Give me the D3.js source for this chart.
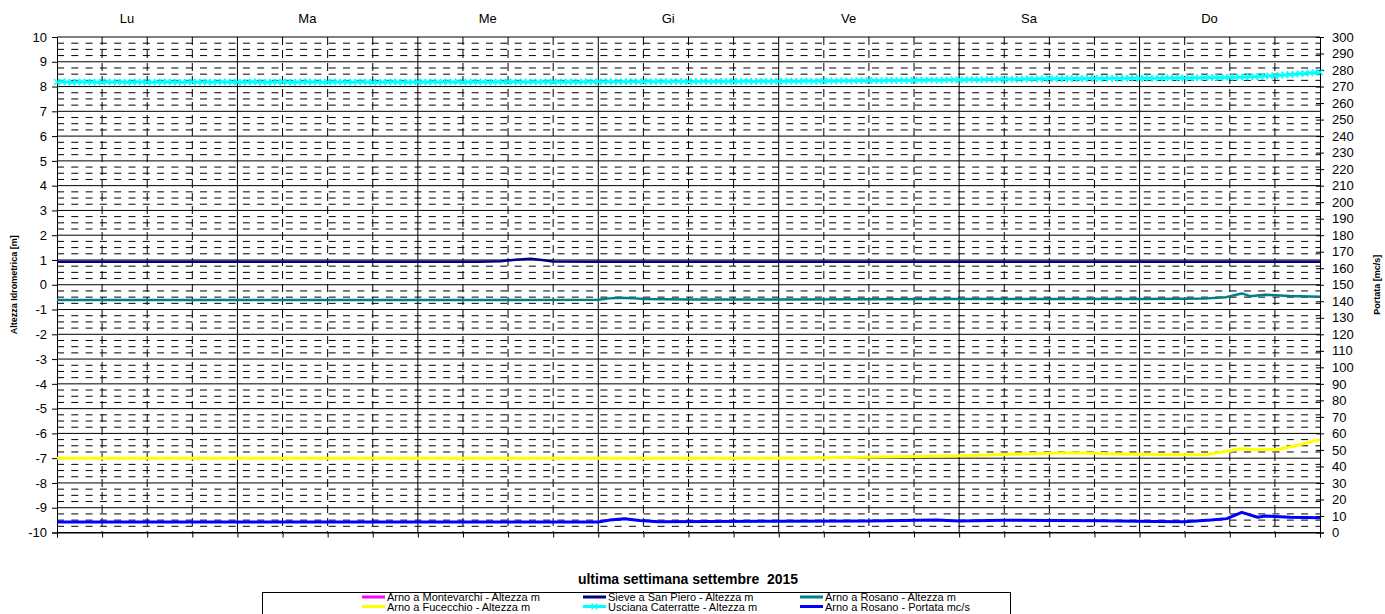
<!DOCTYPE html>
<html><head><meta charset="utf-8">
<script src="https://cdn.jsdelivr.net/npm/d3@7"></script>
<style>
html,body{margin:0;padding:0;background:#fff;}
svg{display:block;font-family:"Liberation Sans",Arial,sans-serif;}
text{white-space:pre;}
</style></head>
<body>
<svg id="chart" width="1385" height="614"></svg>
<script>
// ---------- data ----------
const days = ["Lu","Ma","Me","Gi","Ve","Sa","Do"];
const leftTickLabels = [10,9,8,7,6,5,4,3,2,1,0,-1,-2,-3,-4,-5,-6,-7,-8,-9,-10];
const rightTickLabels = [300,290,280,270,260,250,240,230,220,210,200,190,180,170,160,150,140,130,120,110,100,90,80,70,60,50,40,30,20,10,0];
const xTitle = "ultima settimana settembre  2015";
const leftTitle = "Altezza Idrometrica [m]";
const rightTitle = "Portata [mc/s]";

// Arno a Montevarchi - Altezza m (no data in the period)
const montevarchiHours = [];
const montevarchiValues = [];

// Sieve a San Piero - Altezza m
const sieveHours  = [0, 12, 24, 36, 48, 56, 59, 61, 63, 64.5, 66, 72, 96, 120, 144, 168];
const sieveValues = [0.93,0.93,0.93,0.93,0.93,0.93,0.95,1.01,1.05,1.0,0.94,0.93,0.93,0.93,0.93,0.93];

// Arno a Rosano - Altezza m
const rosanoHHours  = [0, 24, 48, 72, 73.5, 75, 76.5, 78, 84, 96, 108, 120, 132, 144, 150, 153, 155.5, 157.6, 158.7, 160.7, 164, 168];
const rosanoHValues = [-0.62,-0.62,-0.62,-0.61,-0.55,-0.52,-0.54,-0.58,-0.6,-0.6,-0.59,-0.58,-0.58,-0.58,-0.57,-0.55,-0.5,-0.35,-0.46,-0.4,-0.45,-0.48];

// Arno a Fucecchio - Altezza m
const fucecchioHours  = [0, 24, 48, 72, 96, 105, 114, 120, 126, 132, 135, 138, 141, 144, 150, 153, 155, 157.5, 159.5, 162.5, 165, 167, 168];
const fucecchioValues = [-7.0,-7.0,-7.0,-7.0,-7.0,-6.97,-6.93,-6.9,-6.85,-6.8,-6.78,-6.8,-6.83,-6.84,-6.86,-6.85,-6.75,-6.62,-6.66,-6.64,-6.48,-6.32,-6.25];

// Usciana Caterratte - Altezza m (one reading every 40 minutes)
const uscianaStepHours = 2 / 3;
const uscianaValues = [
 8.18,8.19,8.18,8.17,8.18,8.19,8.18,8.18,8.17,8.18,8.19,8.18,8.18,8.18,8.17,8.18,8.19,8.18,8.18,8.17,8.18,8.18,8.19,8.18,8.18,8.17,8.18,8.19,8.18,8.18,8.18,8.17,8.18,8.19,8.18,8.18,
 8.18,8.17,8.18,8.19,8.18,8.18,8.17,8.18,8.18,8.19,8.18,8.17,8.18,8.18,8.19,8.18,8.18,8.17,8.18,8.19,8.18,8.18,8.18,8.17,8.18,8.19,8.18,8.18,8.17,8.18,8.18,8.19,8.18,8.18,8.17,8.18,
 8.19,8.18,8.18,8.19,8.18,8.18,8.19,8.18,8.19,8.18,8.18,8.19,8.18,8.19,8.18,8.18,8.19,8.18,8.19,8.19,8.18,8.19,8.18,8.19,8.18,8.19,8.19,8.18,8.19,8.18,8.19,8.19,8.18,8.19,8.19,8.19,
 8.19,8.19,8.20,8.19,8.19,8.20,8.19,8.20,8.19,8.20,8.20,8.19,8.20,8.20,8.19,8.20,8.20,8.20,8.19,8.20,8.20,8.21,8.20,8.20,8.21,8.20,8.20,8.21,8.20,8.21,8.21,8.20,8.21,8.21,8.20,8.21,
 8.21,8.21,8.22,8.21,8.21,8.22,8.22,8.21,8.22,8.22,8.23,8.22,8.23,8.23,8.22,8.23,8.24,8.23,8.24,8.24,8.23,8.24,8.25,8.24,8.25,8.25,8.24,8.25,8.26,8.25,8.26,8.26,8.25,8.26,8.27,8.27,
 8.27,8.27,8.28,8.28,8.27,8.28,8.29,8.28,8.29,8.29,8.30,8.29,8.30,8.30,8.31,8.30,8.31,8.31,8.32,8.31,8.32,8.32,8.31,8.32,8.33,8.32,8.33,8.33,8.32,8.33,8.33,8.34,8.33,8.33,8.34,8.34,
 8.33,8.34,8.34,8.33,8.34,8.35,8.34,8.35,8.35,8.34,8.35,8.36,8.35,8.36,8.36,8.37,8.36,8.37,8.38,8.37,8.38,8.39,8.40,8.40,8.41,8.42,8.43,8.44,8.45,8.47,8.48,8.50,8.52,8.53,8.55,8.56,8.58
];

// Arno a Rosano - Portata mc/s (right axis)
const portataHours  = [0, 24, 48, 72, 73.5, 75.5, 77.5, 80, 96, 108, 117, 120, 126, 132, 138.7, 146, 150, 153.5, 155.6, 157.6, 159.7, 160.7, 164, 168];
const portataValues = [6.4,6.4,6.4,6.4,7.5,8.3,7.2,6.5,6.8,7.0,7.6,7.0,7.4,7.3,7.1,6.6,6.5,7.5,8.4,12.2,9.2,10.0,9.2,9.0];

// ---------- layout ----------
const svg = d3.select("#chart");
const L = 57, R = 1320, T = 37, B = 532.5;
const x = d3.scaleLinear().domain([0, 168]).range([L, R]);
const yL = d3.scaleLinear().domain([-10, 10]).range([B, T]);
const yR = d3.scaleLinear().domain([0, 300]).range([B, T]);

const g = svg.append("g");

// minor horizontal gridlines (every 0.25 m)
const minorH = d3.range(-10, 10.001, 0.25).filter(v => Math.abs(v - Math.round(v)) > 1e-6);
g.selectAll(".hminor").data(minorH).join("line")
  .attr("x1", L).attr("x2", R).attr("y1", d => yL(d)).attr("y2", d => yL(d))
  .attr("stroke", "#000").attr("stroke-width", 1).attr("stroke-dasharray", "7,7.3");

// minor vertical gridlines (every 6 h)
const minorV = d3.range(6, 168, 6).filter(h => h % 24 !== 0);
g.selectAll(".vminor").data(minorV).join("line")
  .attr("x1", d => x(d)).attr("x2", d => x(d)).attr("y1", T).attr("y2", B)
  .attr("stroke", "#000").attr("stroke-width", 1).attr("stroke-dasharray", "8,5");

// major horizontal gridlines
g.selectAll(".hmajor").data(leftTickLabels).join("line")
  .attr("x1", L).attr("x2", R).attr("y1", d => yL(d)).attr("y2", d => yL(d))
  .attr("stroke", "#000").attr("stroke-width", 1);

// day lines
g.selectAll(".vmajor").data(d3.range(1, 7)).join("line")
  .attr("x1", d => x(d * 24)).attr("x2", d => x(d * 24)).attr("y1", T).attr("y2", B)
  .attr("stroke", "#000").attr("stroke-width", 1);

// axes
const fmt = d => String(d);
const axL = d3.axisLeft(yL).tickValues(leftTickLabels).tickSize(5).tickPadding(5).tickFormat(fmt);
const axR = d3.axisRight(yR).tickValues(rightTickLabels).tickSize(4).tickPadding(8).tickFormat(fmt);
const axB = d3.axisBottom(x).tickValues(d3.range(0, 169, 6)).tickSize(5).tickFormat("");

function styleAxis(sel){
  sel.select(".domain").attr("stroke", "#000");
  sel.selectAll(".tick line").attr("stroke", "#000");
  sel.selectAll(".tick text").attr("fill", "#000").attr("font-size", 13)
     .attr("font-family", '"Liberation Sans",Arial,sans-serif');
}
svg.append("g").attr("transform", `translate(${L},0)`).call(axL).call(styleAxis);
const gr = svg.append("g").attr("transform", `translate(${R},0)`).call(axR).call(styleAxis);
gr.selectAll(".tick line").attr("x1", -4);
svg.append("g").attr("transform", `translate(0,${B})`).call(axB).call(styleAxis);

// day labels at top
svg.selectAll(".day").data(days).join("text")
  .attr("x", (d, i) => x(i * 24 + 9.3)).attr("y", 23)
  .attr("text-anchor", "middle").attr("font-size", 13).text(d => d);

// ---------- series ----------
const lineL = d3.line().x(d => x(d[0])).y(d => yL(d[1]));
const lineR = d3.line().x(d => x(d[0])).y(d => yR(d[1]));
const zip = (hs, vs) => hs.map((h, i) => [h, vs[i]]);

const series = [
  {name: "Arno a Montevarchi - Altezza m", color: "#FF00FF", pts: zip(montevarchiHours, montevarchiValues), gen: lineL, w: 2.5},
  {name: "Sieve a San Piero - Altezza m", color: "#000080", pts: zip(sieveHours, sieveValues), gen: lineL, w: 2.5},
  {name: "Arno a Rosano - Altezza m", color: "#008080", pts: zip(rosanoHHours, rosanoHValues), gen: lineL, w: 2.5},
  {name: "Arno a Fucecchio - Altezza m", color: "#FFFF00", pts: zip(fucecchioHours, fucecchioValues), gen: lineL, w: 3},
  {name: "Usciana Caterratte - Altezza m", color: "#00FFFF", pts: uscianaValues.map((v, i) => [i * uscianaStepHours, v]), gen: lineL, w: 2.5, marker: true},
  {name: "Arno a Rosano - Portata mc/s", color: "#0000FF", pts: zip(portataHours, portataValues), gen: lineR, w: 3}
];

series.forEach(s => {
  if (!s.pts.length) return;
  svg.append("path").attr("d", s.gen(s.pts)).attr("fill", "none")
    .attr("stroke", s.color).attr("stroke-width", s.w).attr("stroke-linejoin", "round");
  if (s.marker) {
    const m = svg.append("g");
    m.selectAll("path").data(s.pts).join("path")
      .attr("d", d => { const cx = x(d[0]), cy = yL(d[1]), r = 3.2;
        return `M${cx-r},${cy-r}L${cx+r},${cy+r}M${cx-r},${cy+r}L${cx+r},${cy-r}`; })
      .attr("stroke", s.color).attr("stroke-width", 1.2).attr("fill", "none");
  }
});

// ---------- titles ----------
svg.append("text").attr("x", 688).attr("y", 584).attr("text-anchor", "middle")
  .attr("font-size", 14).attr("font-weight", "bold").text(xTitle);
svg.append("text").attr("transform", `translate(17,${(T + B) / 2}) rotate(-90)`)
  .attr("text-anchor", "middle").attr("font-size", 9).attr("font-weight", "bold").text(leftTitle);
svg.append("text").attr("transform", `translate(1380,${(T + B) / 2}) rotate(-90)`)
  .attr("text-anchor", "middle").attr("font-size", 9).attr("font-weight", "bold").text(rightTitle);

// ---------- legend ----------
const lg = svg.append("g");
lg.append("rect").attr("x", 262.5).attr("y", 592.5).attr("width", 748).attr("height", 30)
  .attr("fill", "#fff").attr("stroke", "#000");
const colX = [362, 583, 800];
series.forEach((s, i) => {
  const col = i % 3, row = Math.floor(i / 3);
  const lx = colX[col], ly = 597 + row * 9.5;
  lg.append("line").attr("x1", lx).attr("x2", lx + 23).attr("y1", ly).attr("y2", ly)
    .attr("stroke", s.color).attr("stroke-width", 3);
  if (s.marker) {
    lg.append("path").attr("d", `M${lx+8.5},${ly-3}L${lx+14.5},${ly+3}M${lx+8.5},${ly+3}L${lx+14.5},${ly-3}`)
      .attr("stroke", s.color).attr("stroke-width", 1.2);
  }
  lg.append("text").attr("x", lx + 25).attr("y", ly + 4).attr("font-size", 11).text(s.name);
});
</script>
</body></html>
